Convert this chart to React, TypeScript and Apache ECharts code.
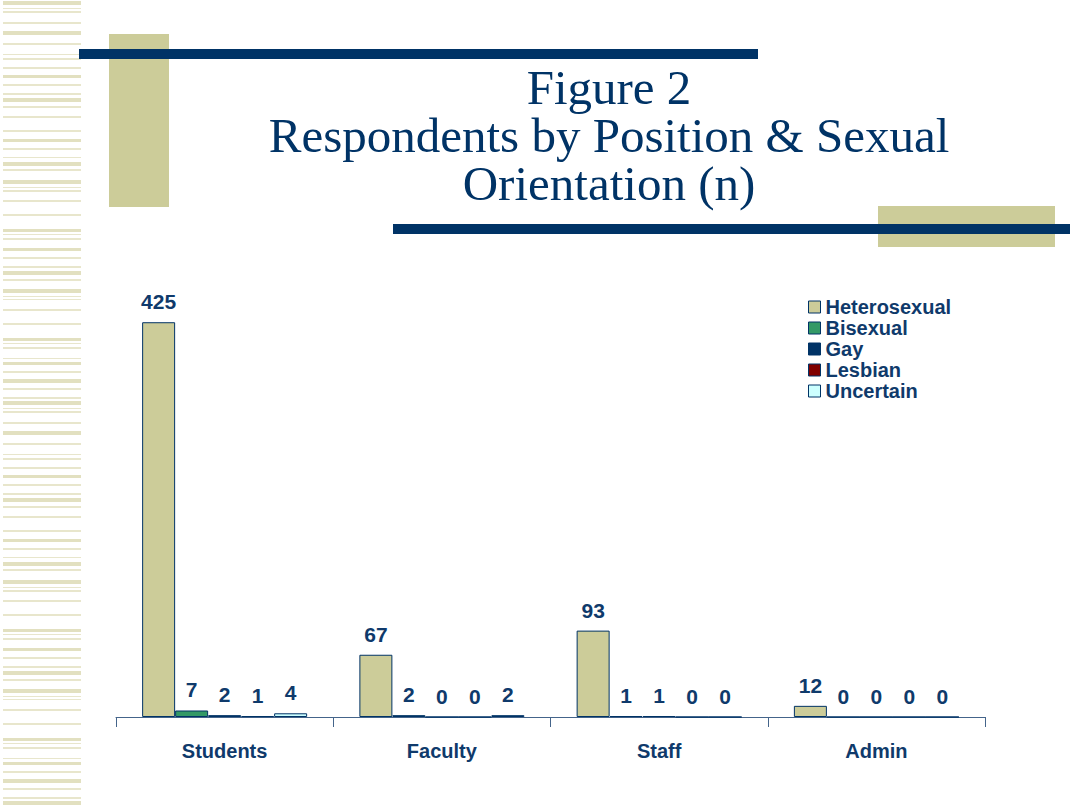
import React, { useEffect, useRef } from "react";
import * as echarts from "echarts";

const categories = ["Students", "Faculty", "Staff", "Admin"];
const seriesNames = ["Heterosexual", "Bisexual", "Gay", "Lesbian", "Uncertain"];
const heterosexual = [425, 67, 93, 12];
const bisexual = [7, 2, 1, 0];
const gay = [2, 0, 1, 0];
const lesbian = [1, 0, 0, 0];
const uncertain = [4, 2, 0, 0];
const seriesValues = [heterosexual, bisexual, gay, lesbian, uncertain];
const seriesColors = ["#cccc99", "#339966", "#003366", "#800000", "#ccffff"];
const titleLines = ["Figure 2", "Respondents by Position & Sexual", "Orientation (n)"];

// decorative stripe bands on the left edge: [y, height]
const stripeBands: [number, number][] = [
  [1, 4], [8, 1], [11, 2], [22, 2], [31, 4], [43, 2], [54, 1], [58, 2], [67, 2],
  [75, 3], [84, 2], [93, 2], [98, 4], [106, 2], [116, 2], [130, 2], [139, 3],
  [148, 2], [157, 1], [162, 4], [169, 2], [180, 4], [187, 1], [190, 2],
  [200, 2], [214, 2], [229, 3], [234, 1], [238, 2], [248, 3], [257, 2], [266, 2],
  [271, 4], [279, 2], [289, 4], [296, 1], [299, 1], [309, 2], [323, 2], [338, 3],
  [343, 1], [347, 2], [358, 1], [362, 3], [371, 2], [379, 4], [388, 2], [397, 2],
];

const NAVY = "#003366";
const TEXT = "#0f3a6b";
const KHAKI = "#cccc99";
const SANS = "'Liberation Sans', Arial, sans-serif";

export default function App() {
  const ref = useRef<HTMLDivElement>(null);
  useEffect(() => {
    if (!ref.current) return;
    const chart = echarts.init(ref.current, null, { renderer: "svg" });

    const graphics: any[] = [];
    for (let rep = 0; rep < 3; rep++) {
      for (const [y, h] of stripeBands) {
        const yy = y + rep * 400;
        if (yy > 805) continue;
        graphics.push({
          type: "rect",
          shape: { x: 3, y: yy, width: 78, height: h },
          style: { fill: h >= 3 ? "#e2e0c0" : "#e8e6cc" },
          silent: true,
        });
      }
    }
    graphics.push(
      { type: "rect", shape: { x: 109, y: 34, width: 60, height: 173 }, style: { fill: KHAKI } },
      { type: "rect", shape: { x: 79, y: 49, width: 679, height: 10 }, style: { fill: NAVY } },
      { type: "rect", shape: { x: 878, y: 206, width: 177, height: 41 }, style: { fill: KHAKI } },
      { type: "rect", shape: { x: 393, y: 224, width: 677, height: 10 }, style: { fill: NAVY } }
    );
    graphics.push({
      type: "text",
      x: 609,
      y: 135,
      style: {
        text: titleLines.join("\n"),
        fill: NAVY,
        fontSize: 49,
        fontFamily: "'Liberation Serif', 'Times New Roman', serif",
        lineHeight: 48,
        textAlign: "center",
        textVerticalAlign: "middle",
      },
    });

    chart.setOption({
      animation: false,
      backgroundColor: "#ffffff",
      graphic: graphics,
      grid: { left: 116, right: 85, top: 299, bottom: 88, containLabel: false },
      legend: {
        orient: "vertical",
        left: 808,
        top: 297,
        padding: 0,
        itemWidth: 12,
        itemHeight: 12,
        itemGap: 1,
        icon: "rect",
        data: seriesNames,
        itemStyle: { borderColor: NAVY, borderWidth: 1 },
        textStyle: {
          color: TEXT,
          fontSize: 20,
          fontWeight: "bold",
          lineHeight: 20,
          fontFamily: SANS,
        },
      },
      xAxis: {
        type: "category",
        data: categories,
        axisLine: { lineStyle: { color: "#44648a", width: 1 } },
        axisTick: { show: true, length: 10, lineStyle: { color: "#44648a" } },
        axisLabel: {
          margin: 24,
          color: TEXT,
          fontSize: 20,
          fontWeight: "bold",
          fontFamily: SANS,
        },
      },
      yAxis: {
        type: "value",
        min: 0,
        max: 450,
        show: false,
        splitLine: { show: false },
      },
      series: seriesNames.map((name, i) => ({
        name,
        type: "bar",
        data: seriesValues[i],
        barWidth: 33,
        barGap: "0%",
        itemStyle: {
          color: seriesColors[i],
          borderColor: NAVY,
          borderWidth: 1,
        },
        label: {
          show: true,
          position: "top",
          distance: 10,
          color: TEXT,
          fontSize: 21,
          fontWeight: "bold",
          fontFamily: SANS,
        },
      })),
    });
    return () => chart.dispose();
  }, []);
  return (
    <div
      ref={ref}
      style={{ position: "absolute", left: 0, top: 0, width: 1070, height: 805 }}
    />
  );
}
